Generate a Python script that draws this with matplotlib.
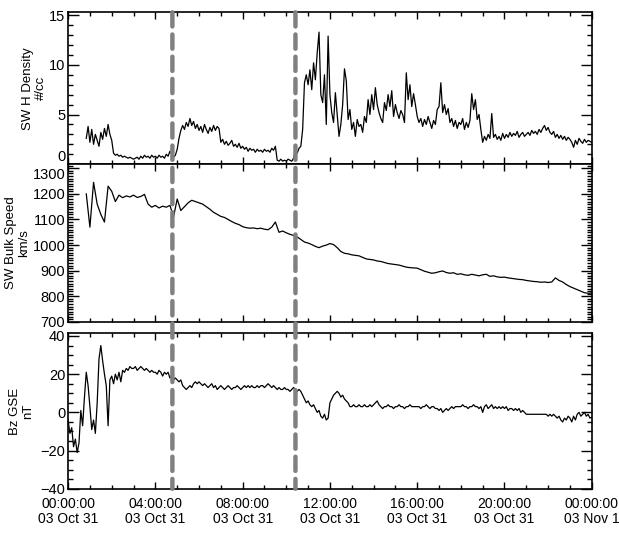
#!/usr/bin/env python3
"""
Solar wind overview for 2003 Oct 31: proton density, bulk speed and Bz (GSE),
with the two event times marked by dashed grey lines.

Writes:
    out.png
"""

import numpy as np
import matplotlib
matplotlib.use("Agg")
import matplotlib.pyplot as plt
from matplotlib.patches import ConnectionPatch
from matplotlib.ticker import MultipleLocator

plt.rcParams["font.family"] = ["Liberation Sans", "DejaVu Sans"]

# event markers (hours after 2003-10-31 00:00 UT)
EVENT_HOURS = [4.78, 10.42]

# x-axis ticks
TICK_HOURS = [0, 4, 8, 12, 16, 20, 24]
TICK_LABELS = [
    "00:00:00\n03 Oct 31",
    "04:00:00\n03 Oct 31",
    "08:00:00\n03 Oct 31",
    "12:00:00\n03 Oct 31",
    "16:00:00\n03 Oct 31",
    "20:00:00\n03 Oct 31",
    "00:00:00\n03 Nov 1",
]

# y-axis ticks per panel
DENSITY_TICKS = [0, 5, 10, 15]
SPEED_TICKS = [700, 800, 900, 1000, 1100, 1200, 1300]
BZ_TICKS = [-40, -20, 0, 20, 40]

# SW H density (#/cc), 5-minute samples from 00:50 to 24:00
density_hours = np.arange(50, 1441, 5) / 60.0
density = [
    2.6, 3.8,
    2.2, 3.5, 2.0, 3.0, 2.4, 1.8, 3.2, 2.5, 3.6, 2.8, 4.0, 3.0,
    2.4, 1.1, 0.9, 1.0, 0.8, 0.9, 0.7, 0.8, 0.7, 0.6, 0.7, 0.6,
    0.5, 0.6, 0.7, 0.5, 0.8, 0.6, 0.9, 0.7, 0.8, 0.6, 0.9, 0.7,
    0.8, 0.6, 0.9, 0.7, 0.8, 0.6, 1.0, 0.8, 1.3, 1.0, 0.7, 0.9,
    1.5, 2.6, 3.4, 3.9, 3.5, 4.2, 3.8, 4.6, 3.9, 4.3, 3.6, 4.0,
    3.4, 3.8, 3.2, 4.0, 3.5, 3.1, 3.7, 3.3, 3.9, 3.4, 3.8, 3.6,
    2.2, 2.5, 2.0, 2.3, 1.9, 2.1, 2.4, 1.8, 2.0, 1.7, 2.1, 1.6,
    1.8, 1.5, 1.7, 1.3, 1.6, 1.4, 1.5, 1.2, 1.5, 1.3, 1.4, 1.2,
    1.5, 1.3, 1.4, 1.2, 1.6, 1.4, 1.8, 0.4, 0.3, 0.5, 0.3, 0.4,
    0.3, 0.5, 0.4, 0.3, 0.6, 1.4, 1.1, 1.6, 1.8, 3.5, 8.2, 9.0,
    8.0, 9.5, 7.5, 10.2, 8.5, 11.2, 13.3, 7.0, 6.2, 9.0, 4.0, 12.9,
    7.0, 5.2, 4.2, 7.2, 5.0, 2.8, 4.0, 6.0, 9.6, 8.4, 4.5, 5.5,
    3.5, 4.2, 2.8, 4.5, 3.8, 4.0, 3.2, 4.8, 4.2, 6.5, 5.0, 7.0,
    5.5, 7.7, 6.0, 5.2, 4.6, 4.2, 6.2, 5.4, 7.0, 5.8, 7.4, 4.8,
    6.0, 5.2, 4.6, 5.4, 5.0, 4.2, 9.2, 6.5, 8.0, 5.8, 7.1, 6.0,
    4.8, 4.2, 4.6, 3.8, 4.5, 4.0, 4.8, 4.2, 3.6, 4.4, 4.0, 5.5,
    5.8, 8.2, 5.2, 6.0, 5.0, 5.6, 4.2, 4.6, 3.8, 4.4, 3.6, 4.2,
    4.0, 4.6, 3.5, 4.2, 3.7, 4.4, 7.1, 5.5, 6.5, 4.5, 5.0, 3.5,
    2.2, 2.8, 2.4, 3.0, 2.6, 5.1, 2.7, 3.0, 2.5, 2.8, 2.4, 3.1,
    2.6, 3.0, 2.7, 3.2, 2.8, 3.1, 2.9, 3.3, 2.7, 3.0, 3.2, 2.8,
    3.0, 3.2, 2.9, 3.4, 3.1, 3.3, 3.0, 3.5, 3.2, 3.6, 3.9, 3.4,
    3.7, 3.2, 3.0, 3.3, 2.7, 3.0, 2.6, 2.9, 2.5, 2.8, 2.4, 2.7,
    2.5, 2.2, 1.7, 2.4, 2.0, 2.6, 2.3, 2.1, 2.5, 2.2, 2.4, 2.3,
    2.2,
]

# SW bulk speed (km/s), 10-minute samples from 00:50 to 24:00
speed_hours = np.arange(50, 1441, 10) / 60.0
speed = [
    1200,
    1070, 1245, 1160, 1120, 1090, 1230,
    1210, 1170, 1195, 1185, 1192, 1188,
    1195, 1186, 1190, 1198, 1160, 1148,
    1155, 1145, 1152, 1148, 1155, 1110,
    1180, 1135, 1150, 1165, 1175, 1170,
    1165, 1160, 1150, 1140, 1128, 1120,
    1112, 1108, 1100, 1092, 1085, 1080,
    1072, 1068, 1066, 1067, 1064, 1066,
    1062, 1060, 1070, 1090, 1050, 1055,
    1048, 1042, 1038, 1032, 1022, 1012,
    1008, 1002, 995, 990, 996, 1000,
    1006, 1002, 990, 975, 968, 966,
    962, 960, 958, 952, 946, 944,
    942, 938, 936, 932, 928, 926,
    924, 922, 918, 914, 912, 911,
    910, 904, 898, 894, 890, 892,
    896, 899, 893, 890, 892, 886,
    888, 884, 882, 886, 883, 880,
    884, 886, 878, 880, 876, 874,
    875, 872, 870, 868, 866, 865,
    862, 860, 858, 857, 855, 856,
    854, 856, 872, 862, 856, 846,
    838, 832, 826, 820, 814, 812,
    813,
]

# Bz GSE (nT), 5-minute samples from 00:00 to 24:00
bz_hours = np.arange(0, 1441, 5) / 60.0
bz = [
    -4, -11, -8, -18, -14, -21, -16, 1, -7, 8, 21, 14,
    3, -9, -4, -11, 5, 28, 35, 27, 20, 14, -7, 17,
    19, 15, 20, 17, 21, 16, 22, 21, 23, 22, 24, 23,
    23, 24, 22, 23, 24, 23, 22, 23, 22, 21, 22, 21,
    21, 20, 22, 21, 19, 21, 20, 21, 18, 19, 17, 18,
    17, 16, 17, 14, 13, 12, 13, 14, 13, 15, 16, 15,
    16, 15, 14, 15, 14, 13, 14, 15, 13, 14, 12, 13,
    14, 13, 12, 13, 14, 13, 12, 13, 13, 14, 13, 12,
    13, 14, 13, 14, 13, 14, 13, 13, 14, 13, 14, 14,
    13, 14, 15, 14, 13, 14, 13, 12, 13, 12, 12, 13,
    12, 12, 11, 12, 13, 12, 11, 12, 11, 9, 7, 5,
    6, 4, 3, 4, 2, 0, 1, -2, -3, -1, -4, -3,
    5, 7, 9, 10, 11, 10, 8, 9, 7, 6, 5, 3,
    3, 4, 3, 3, 4, 3, 3, 4, 3, 3, 4, 3,
    4, 5, 6, 4, 3, 2, 3, 3, 4, 3, 3, 2,
    3, 3, 4, 3, 3, 2, 3, 3, 4, 3, 3, 3,
    3, 3, 2, 3, 3, 4, 3, 2, 3, 3, 2, 2,
    1, 2, 0, 1, 2, 1, 2, 3, 2, 3, 3, 3,
    3, 4, 3, 3, 2, 3, 3, 4, 3, 3, 2, 3,
    0, 3, 4, 2, 3, 4, 2, 3, 2, 3, 2, 3,
    2, 3, 1, 2, 2, 1, 2, 1, 2, 0, 1, 0,
    -1, -1, -1, -1, -1, -1, -1, -1, -1, -1, -1, -1,
    -2, -1, -2, -1, -2, -3, -2, -4, -5, -3, -4, -2,
    -3, -5, -2, -4, -1, 0, -2, -1, 0, -2, -1, -3,
    -2.5,
]


def style_axis(ax, ylim, yticks, minor):
    ax.set_xlim(0, 24)
    ax.set_ylim(*ylim)
    ax.set_xticks(TICK_HOURS)
    ax.xaxis.set_minor_locator(MultipleLocator(1))
    ax.set_yticks(yticks)
    ax.yaxis.set_minor_locator(MultipleLocator(minor))
    ax.tick_params(which="both", direction="in", top=True, right=True, width=1.0)
    ax.tick_params(axis="y", which="major", length=8, labelsize=10.5, pad=2)
    ax.tick_params(axis="y", which="minor", length=3.5)
    ax.tick_params(axis="x", which="major", length=5)
    ax.tick_params(axis="x", which="minor", length=3)
    for spine in ax.spines.values():
        spine.set_linewidth(1.2)


def main() -> None:
    fig = plt.figure(figsize=(6.19, 5.33), dpi=100)
    ax1 = fig.add_axes([0.110, 0.692, 0.846, 0.285])
    ax2 = fig.add_axes([0.110, 0.396, 0.846, 0.296])
    ax3 = fig.add_axes([0.110, 0.083, 0.846, 0.292])

    ax1.plot(density_hours, density, color="black", lw=0.9)
    ax2.plot(speed_hours, speed, color="black", lw=0.9)
    ax3.plot(bz_hours, bz, color="black", lw=0.9)

    style_axis(ax1, (0, 15.3), DENSITY_TICKS, 1)
    style_axis(ax2, (700, 1316), SPEED_TICKS, 10)
    style_axis(ax3, (-40, 41.5), BZ_TICKS, 5)

    # keep the touching "0" and "1300" labels apart, as in the original
    ax1.yaxis.get_major_ticks()[0].label1.set_va("bottom")
    ax2.yaxis.get_major_ticks()[-1].label1.set_va("top")

    ax1.set_ylabel("SW H Density\n#/cc", fontsize=9.5, linespacing=1.15)
    ax2.set_ylabel("SW Bulk Speed\nkm/s", fontsize=9.5, linespacing=1.15)
    ax3.set_ylabel("Bz GSE\nnT", fontsize=9.5, linespacing=1.15)
    ax1.yaxis.set_label_coords(-0.040, 0.5)
    ax2.yaxis.set_label_coords(-0.072, 0.5)
    ax3.yaxis.set_label_coords(-0.064, 0.5)

    for ax in (ax1, ax2):
        ax.set_xticklabels([])
    ax3.set_xticklabels(TICK_LABELS, fontsize=10, linespacing=1.1)
    ax3.tick_params(axis="x", pad=6)

    # dashed event lines running through all three panels
    for t in EVENT_HOURS:
        con = ConnectionPatch(
            xyA=(t, ax1.get_ylim()[1]), coordsA=ax1.transData,
            xyB=(t, ax3.get_ylim()[0]), coordsB=ax3.transData,
            color="#808080", lw=3.2, linestyle=(0, (3.2, 1.8)), zorder=5,
        )
        fig.add_artist(con)

    fig.savefig("out.png", dpi=100)
    plt.close(fig)


if __name__ == "__main__":
    main()
